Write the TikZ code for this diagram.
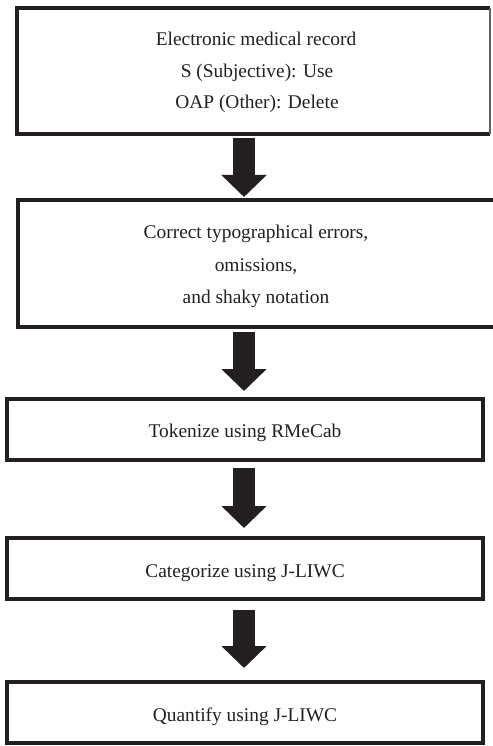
\documentclass[tikz,border=0pt]{standalone}
\usepackage{fontspec}
\setmainfont{Liberation Serif}
\usetikzlibrary{arrows.meta}
\definecolor{ink}{HTML}{231F20}
\begin{document}
\begin{tikzpicture}[x=1pt,y=-1pt]
\tikzset{
  boxline/.style={draw=ink,line width=4pt},
  txt/.style={anchor=base,inner sep=0pt,text=ink,font=\fontsize{19.4}{24}\selectfont},
  bigarrow/.style={draw=ink,line width=22pt,-{Triangle[length=22pt,width=44pt]},fill=ink}
}
\useasboundingbox (0,0) rectangle (492,746);
% box 1
\coordinate (b1nw) at (17,8);
\coordinate (b1se) at (490,134);
\draw[boxline] (b1se |- b1nw) -- (b1nw) -- (b1nw |- b1se) -- (b1se);
\draw[draw=ink!70,line width=1.2pt] (b1se |- b1nw) -- (b1se);
\node[txt] (t1a) at (256,46) {Electronic medical record};
\node[txt] (t1b) at (257,78) {S (Subjective): Use};
\node[txt] (t1c) at (257,109) {OAP (Other): Delete};
% box 2 (right side runs off the page)
\coordinate (b2nw) at (18,200);
\coordinate (b2se) at (500,327);
\draw[boxline] (b2se |- b2nw) -- (b2nw) -- (b2nw |- b2se) -- (b2se);
\node[txt] (t2a) at (256,238) {Correct typographical errors,};
\node[txt] (t2b) at (256,271) {omissions,};
\node[txt] (t2c) at (256,303) {and shaky notation};
% box 3
\node[boxline,minimum width=476pt,minimum height=61pt,inner sep=0pt] (b3) at (245,429.5) {};
\node[txt] (t3) at (245,437) {Tokenize using RMeCab};
% box 4
\node[boxline,minimum width=476pt,minimum height=61pt,inner sep=0pt] (b4) at (245,568.5) {};
\node[txt] (t4) at (245,577) {Categorize using J-LIWC};
% box 5
\node[boxline,minimum width=476pt,minimum height=61pt,inner sep=0pt] (b5) at (245,712.5) {};
\node[txt] (t5) at (245,721) {Quantify using J-LIWC};
% arrows
\coordinate (a1s) at (244,138); \coordinate (a1e) at (244,197);
\coordinate (a2s) at (244,332); \coordinate (a2e) at (244,391);
\coordinate (a3s) at (244,468); \coordinate (a3e) at (244,528);
\coordinate (a4s) at (244,610); \coordinate (a4e) at (244,668);
\draw[bigarrow] (a1s) -- (a1e);
\draw[bigarrow] (a2s) -- (a2e);
\draw[bigarrow] (a3s) -- (a3e);
\draw[bigarrow] (a4s) -- (a4e);
\end{tikzpicture}
\end{document}
